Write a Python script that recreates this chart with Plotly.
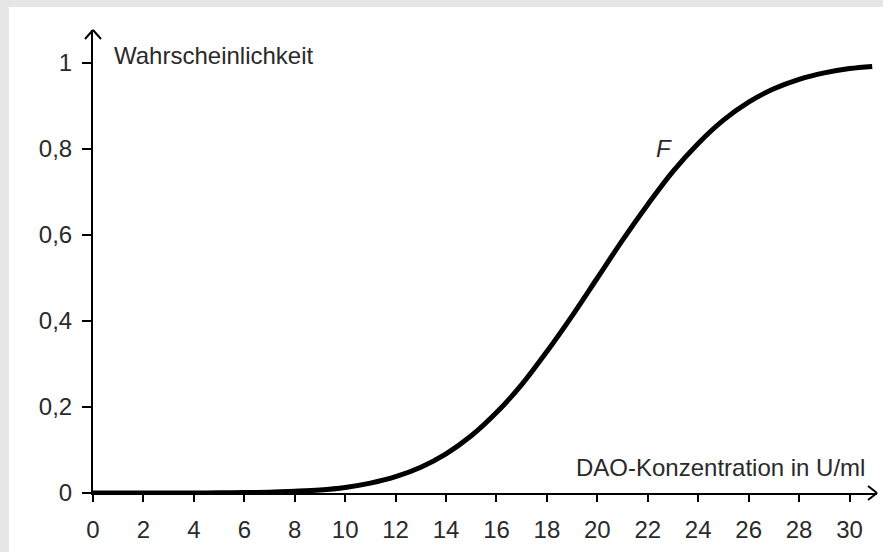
import plotly.graph_objects as go

# Values
conc = list(range(0, 31)) + [30.9]
prob = [0.000, 0.000, 0.000, 0.0001, 0.0002, 0.0004, 0.001, 0.002, 0.004, 0.007,
        0.013, 0.023, 0.038, 0.060, 0.091, 0.133, 0.187, 0.252, 0.329, 0.412,
        0.500, 0.588, 0.671, 0.748, 0.813, 0.867, 0.909, 0.940, 0.962, 0.977,
        0.987, 0.992]

x_ticks = list(range(0, 31, 2))
x_ticklabels = [str(v) for v in x_ticks]
y_ticks = [0, 0.2, 0.4, 0.6, 0.8, 1]
y_ticklabels = ["0", "0,2", "0,4", "0,6", "0,8", "1"]

XMAX = 31.09
YMAX = 1.0767
FONT = "Liberation Sans, Arial, sans-serif"
FS = 24
TXT = "#2a2a2a"

fig = go.Figure()
fig.add_trace(go.Scatter(x=conc, y=prob, mode="lines", line=dict(color="black", width=5, shape="spline"),
                         hoverinfo="skip", showlegend=False, cliponaxis=False))

arrow = dict(color="black", width=2)
shapes = [
    # white sheet over gray frame
    dict(type="rect", xref="paper", yref="paper", x0=-0.1072, x1=1.02, y0=-0.14, y1=1.0497,
         fillcolor="white", line=dict(width=0), layer="below"),
    # x-axis arrowhead
    dict(type="line", xref="paper", yref="paper", xsizemode="pixel", ysizemode="pixel", xanchor=1, yanchor=0,
         x0=0, x1=-9, y0=0, y1=7, line=arrow),
    dict(type="line", xref="paper", yref="paper", xsizemode="pixel", ysizemode="pixel", xanchor=1, yanchor=0,
         x0=0, x1=-9, y0=0, y1=-7, line=arrow),
    # y-axis arrowhead
    dict(type="line", xref="paper", yref="paper", xsizemode="pixel", ysizemode="pixel", xanchor=0, yanchor=1,
         x0=0, x1=-8, y0=0, y1=-9, line=arrow),
    dict(type="line", xref="paper", yref="paper", xsizemode="pixel", ysizemode="pixel", xanchor=0, yanchor=1,
         x0=0, x1=8, y0=0, y1=-9, line=arrow),
]

annotations = [
    dict(x=0.75, y=1.018, xref="x", yref="y", text="Wahrscheinlichkeit", showarrow=False,
         xanchor="left", yanchor="middle", font=dict(family=FONT, size=FS, color=TXT)),
    dict(x=30.7, y=0.06, xref="x", yref="y", text="DAO-Konzentration in U/ml", showarrow=False,
         xanchor="right", yanchor="middle", font=dict(family=FONT, size=FS, color=TXT)),
    dict(x=22.64, y=0.80, xref="x", yref="y", text="<i>F</i>", showarrow=False,
         xanchor="center", yanchor="middle", font=dict(family=FONT, size=FS, color=TXT)),
]

fig.update_layout(
    width=883, height=552,
    margin=dict(l=93, r=6, t=30, b=59, autoexpand=False),
    paper_bgcolor="#e6e6e6", plot_bgcolor="white",
    shapes=shapes, annotations=annotations,
    xaxis=dict(range=[0, XMAX], tickvals=x_ticks, ticktext=x_ticklabels, ticks="outside", ticklen=7,
               tickwidth=2, tickcolor="black", showline=True, linecolor="black", linewidth=2,
               showgrid=False, zeroline=False, ticklabelstandoff=7, automargin=False,
               tickfont=dict(family=FONT, size=FS, color=TXT)),
    yaxis=dict(range=[0, YMAX], tickvals=y_ticks, ticktext=y_ticklabels, ticks="outside", ticklen=9,
               tickwidth=2, tickcolor="black", showline=True, linecolor="black", linewidth=2,
               showgrid=False, zeroline=False, ticklabelstandoff=5, automargin=False,
               tickfont=dict(family=FONT, size=FS, color=TXT)),
)

fig.write_html("out.html", config={"displayModeBar": False},
               post_script="document.body.style.margin='0';document.body.style.background='#e6e6e6';")
